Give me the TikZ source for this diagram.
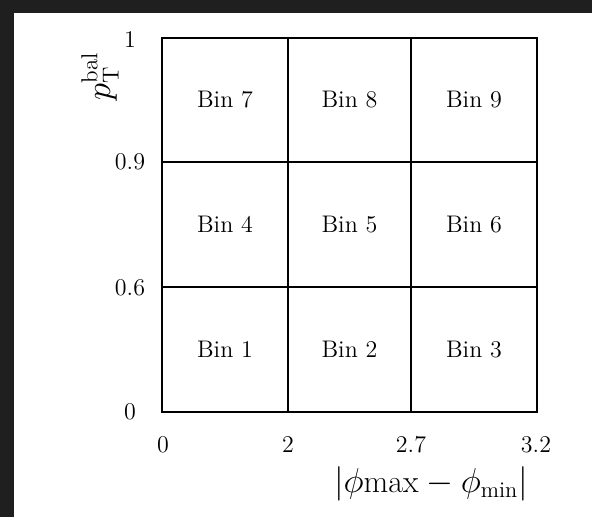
\documentclass[tikz,border=0pt]{standalone}
\usepackage{fontspec}
\begin{document}
\begin{tikzpicture}[x=0.5pt,y=-0.5pt,
  cell/.style={draw=black,line width=1.2pt,inner sep=0pt,font=\fontsize{12}{14}\selectfont},
  tick/.style={inner sep=0pt,font=\fontsize{12}{14}\selectfont},
  axlabel/.style={inner sep=0pt,font=\fontsize{16.5}{19}\selectfont}]
\useasboundingbox (0,0) rectangle (592,517);
\fill[black!88] (0,0) rectangle (592,517);
\fill[white] (14,13) rectangle (592,517);
% cells
\node[cell,minimum width=63pt,minimum height=62pt] (b7) at (225,100) {Bin 7};
\node[cell,minimum width=61.5pt,minimum height=62pt] (b8) at (349.5,100) {Bin 8};
\node[cell,minimum width=63pt,minimum height=62pt] (b9) at (474,100) {Bin 9};
\node[cell,minimum width=63pt,minimum height=62.5pt] (b4) at (225,224.5) {Bin 4};
\node[cell,minimum width=61.5pt,minimum height=62.5pt] (b5) at (349.5,224.5) {Bin 5};
\node[cell,minimum width=63pt,minimum height=62.5pt] (b6) at (474,224.5) {Bin 6};
\node[cell,minimum width=63pt,minimum height=62.5pt] (b1) at (225,349.5) {Bin 1};
\node[cell,minimum width=61.5pt,minimum height=62.5pt] (b2) at (349.5,349.5) {Bin 2};
\node[cell,minimum width=63pt,minimum height=62.5pt] (b3) at (474,349.5) {Bin 3};
% y ticks
\node[tick] (y1) at (130,40) {1};
\node[tick] (y09) at (130,162) {0.9};
\node[tick] (y06) at (130,288) {0.6};
\node[tick] (y0) at (130,412) {0};
% x ticks
\node[tick] (x0) at (163,445) {0};
\node[tick] (x2) at (288,445) {2};
\node[tick] (x27) at (411,445) {2.7};
\node[tick] (x32) at (536,445) {3.2};
% axis labels
\node[axlabel,font=\fontsize{16}{19}\selectfont] (xl) at (431,484) {$|\phi\mathrm{max}-\phi_{\mathrm{min}}|$};
\node[axlabel,rotate=90] (yl) at (100,76) {$p_{\mathrm{T}}^{\mathrm{bal}}$};
\end{tikzpicture}
\end{document}
